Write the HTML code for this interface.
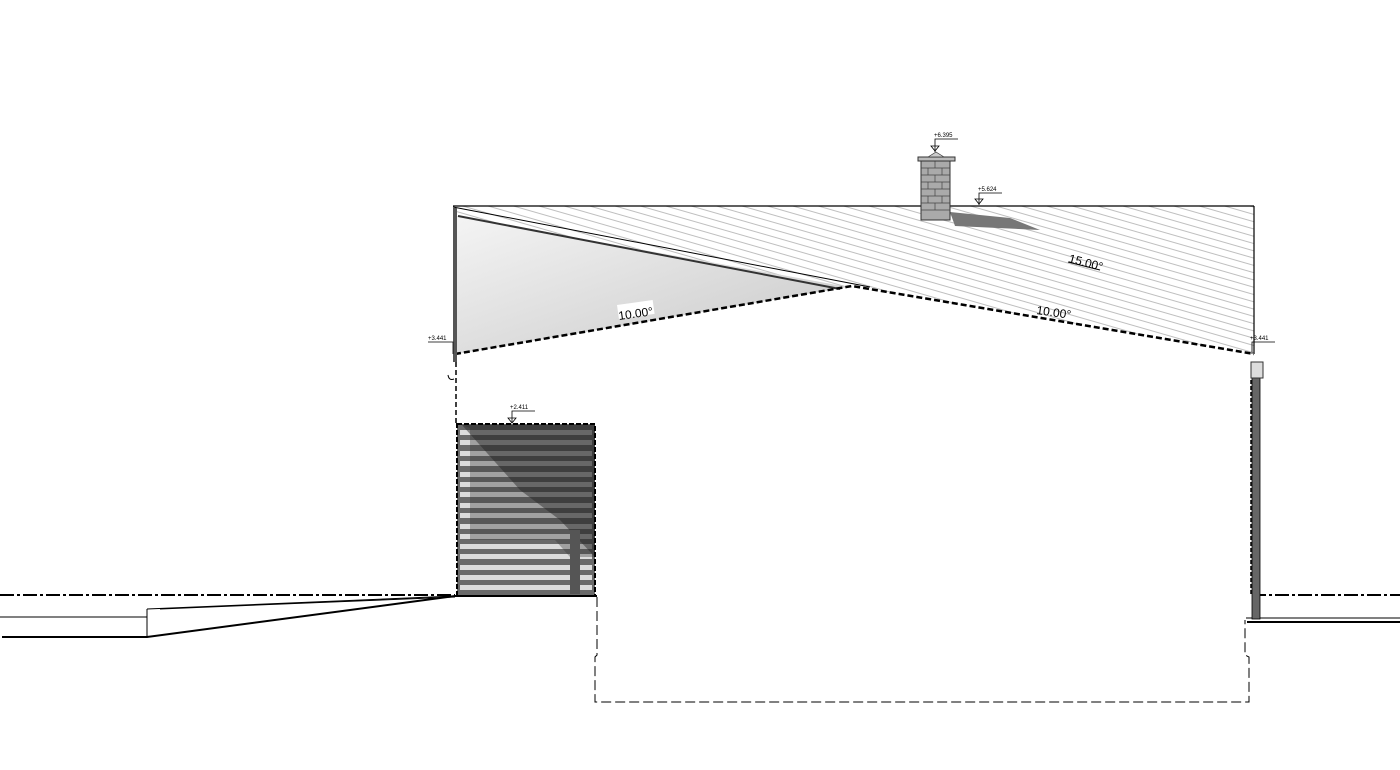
<!DOCTYPE html>
<html><head><meta charset="utf-8"><style>
html,body{margin:0;padding:0;background:#fff}
svg{display:block}
text{font-family:"Liberation Sans",sans-serif}
</style></head><body>
<svg width="1400" height="770" viewBox="0 0 1400 770" xmlns="http://www.w3.org/2000/svg">
<defs>
<pattern id="h" patternUnits="userSpaceOnUse" width="40" height="7" patternTransform="rotate(16)">
<line x1="0" y1="0.5" x2="40" y2="0.5" stroke="#aaa" stroke-width="0.8"/>
</pattern>
<linearGradient id="g" x1="0" y1="0" x2="1" y2="1">
<stop offset="0" stop-color="#f4f4f4"/><stop offset="1" stop-color="#c8c8c8"/>
</linearGradient>
</defs>
<!-- hatched roof -->
<polygon points="453,206 1254,206 1254,354 852,286 455,354" fill="url(#h)"/>
<!-- gray triangle -->
<polygon points="457,216 848,287 457,354" fill="url(#g)"/>
<line x1="453" y1="207" x2="870" y2="287" stroke="#000" stroke-width="1"/>
<line x1="458" y1="216" x2="840" y2="289" stroke="#333" stroke-width="2"/>
<line x1="453" y1="206" x2="1254" y2="206" stroke="#000" stroke-width="1.2"/>
<line x1="1254" y1="206" x2="1254" y2="354" stroke="#000" stroke-width="1.2"/>
<polyline points="455,354 852,286 1254,354" fill="none" stroke="#000" stroke-width="2.5" stroke-dasharray="6,3"/>
<rect x="453" y="208" width="4" height="154" fill="#555"/>
<!-- chimney -->
<polygon points="950,212 1010,218 1040,230 955,226" fill="#777"/>
<rect x="921" y="161" width="29" height="59" fill="#aaa" stroke="#333"/>
<g stroke="#444" stroke-width="0.7">
<line x1="921" y1="168" x2="950" y2="168"/><line x1="921" y1="175" x2="950" y2="175"/><line x1="921" y1="182" x2="950" y2="182"/><line x1="921" y1="189" x2="950" y2="189"/><line x1="921" y1="196" x2="950" y2="196"/><line x1="921" y1="203" x2="950" y2="203"/><line x1="921" y1="210" x2="950" y2="210"/>
<line x1="935" y1="161" x2="935" y2="168"/><line x1="928" y1="168" x2="928" y2="175"/><line x1="942" y1="168" x2="942" y2="175"/><line x1="935" y1="175" x2="935" y2="182"/><line x1="928" y1="182" x2="928" y2="189"/><line x1="942" y1="182" x2="942" y2="189"/><line x1="935" y1="189" x2="935" y2="196"/><line x1="928" y1="196" x2="928" y2="203"/><line x1="942" y1="196" x2="942" y2="203"/><line x1="935" y1="203" x2="935" y2="210"/>
</g>
<rect x="918" y="157" width="37" height="4" fill="#bbb" stroke="#333"/>
<polygon points="928,157 936,152 944,157" fill="#ccc" stroke="#333" stroke-width="0.7"/>
<!-- level markers -->
<g stroke="#000" stroke-width="0.8" fill="none">
<polyline points="958,139 935,139 935,152"/><polygon points="931,146 939,146 935,151"/>
<polyline points="1002,193 979,193 979,205"/><polygon points="975,199 983,199 979,204"/>
<polyline points="428,342 453,342 453,354"/>
<polyline points="1275,342 1252,342 1252,354"/>
<polyline points="535,411 512,411 512,423"/><polygon points="508,418 516,418 512,423"/>
</g>
<g font-size="6" fill="#000">
<text x="934" y="137">+6.395</text><text x="978" y="191">+5.624</text>
<text x="428" y="340">+3.441</text><text x="1250" y="340">+3.441</text>
<text x="510" y="409">+2.411</text>
</g>
<text x="1068" y="262" font-size="12" transform="rotate(15 1068 262)">15.00°</text>
<line x1="1068" y1="262" x2="1100" y2="270" stroke="#000"/>
<rect x="617" y="305" width="36" height="14" fill="#fff" transform="rotate(-8 617 305)"/>
<text x="619" y="320" font-size="12" transform="rotate(-8 619 320)">10.00°</text>
<text x="1036" y="314" font-size="12" transform="rotate(8 1036 314)">10.00°</text>
<!-- left wall dashed -->
<line x1="456" y1="362" x2="456" y2="425" stroke="#000" stroke-width="1.5" stroke-dasharray="5,3"/>
<path d="M448,375 q1,6 6,4" fill="none" stroke="#000"/>
<!-- striped box -->
<rect x="457" y="424" width="138" height="172" fill="#6a6a6a"/>
<g fill="#dcdcdc">
<rect x="460" y="430" width="132" height="5"/><rect x="460" y="440" width="132" height="5"/><rect x="460" y="451" width="132" height="5"/><rect x="460" y="461" width="132" height="5"/><rect x="460" y="472" width="132" height="5"/><rect x="460" y="482" width="132" height="5"/><rect x="460" y="492" width="132" height="5"/><rect x="460" y="503" width="132" height="5"/><rect x="460" y="513" width="132" height="5"/><rect x="460" y="524" width="132" height="5"/><rect x="460" y="534" width="132" height="5"/><rect x="460" y="544" width="132" height="5"/><rect x="460" y="554" width="132" height="5"/><rect x="460" y="565" width="132" height="5"/><rect x="460" y="575" width="132" height="5"/><rect x="460" y="585" width="132" height="5"/>
</g>
<polygon points="462,425 595,425 595,557 570,557 555,540 470,540 470,428" fill="#333" opacity="0.35"/>
<polygon points="462,425 520,490 560,520 595,557 595,425" fill="#222" opacity="0.45"/>
<rect x="570" y="530" width="10" height="64" fill="#555"/>
<rect x="457" y="424" width="138" height="172" fill="none" stroke="#000" stroke-width="2" stroke-dasharray="5,2"/>
<!-- ground -->
<line x1="0" y1="595" x2="455" y2="595" stroke="#000" stroke-width="2" stroke-dasharray="14,3,3,3"/>
<line x1="1252" y1="595" x2="1400" y2="595" stroke="#000" stroke-width="2" stroke-dasharray="14,3,3,3"/>
<g stroke="#000" fill="none">
<polyline points="0,617 147,617"/>
<polyline points="147,609 147,637"/>
<polyline points="2,637 147,637 455,596" stroke-width="2"/>
<polyline points="147,609 455,596"/>
<polyline points="160,609 455,597"/>
<polyline points="455,596 597,596" stroke-width="2"/>
<polyline points="597,597 597,655 595,657 595,702 1249,702 1249,657 1245,655 1245,620" stroke-dasharray="10,4"/>
<line x1="1246" y1="618" x2="1400" y2="618"/>
<line x1="1247" y1="622" x2="1400" y2="622" stroke-width="2"/>
</g>
<!-- right bar -->
<rect x="1252" y="375" width="8" height="244" fill="#666" stroke="#000" stroke-width="0.8"/>
<line x1="1251" y1="380" x2="1251" y2="595" stroke="#000" stroke-width="1.5" stroke-dasharray="4,2"/>
<rect x="1251" y="362" width="12" height="16" fill="#ddd" stroke="#333"/>
</svg>
</body></html>
